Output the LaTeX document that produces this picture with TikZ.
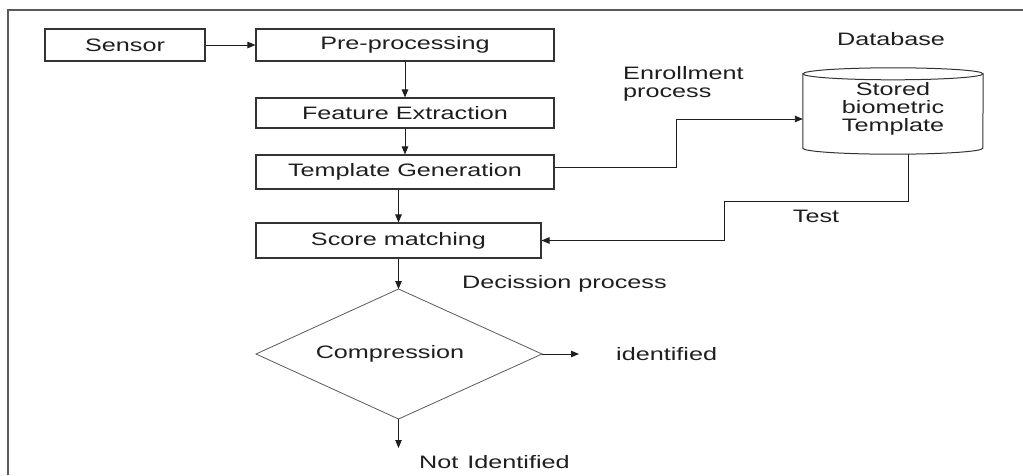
\documentclass[tikz,border=0pt]{standalone}
\usepackage{fontspec}
\setmainfont{Liberation Sans}[FakeStretch=1.4]
\usetikzlibrary{arrows.meta}
\definecolor{ink}{HTML}{1E1E1E}
\definecolor{edge}{HTML}{333333}
\definecolor{soft}{HTML}{5A5A5A}
\begin{document}
\begin{tikzpicture}[x=1pt,y=-1pt,
  every node/.style={font=\fontsize{18}{18}\selectfont, text=ink},
  box/.style={draw=edge, line width=1.1pt, inner sep=0pt},
  lbl/.style={inner sep=0pt},
  arr/.style={draw=ink, line width=0.9pt, -{Triangle[length=8pt,width=6.5pt]}},
  link/.style={draw=ink, line width=0.9pt}]
\useasboundingbox (0,0) rectangle (1023,475);

% outer frame (open at the right and the bottom)
\draw[draw=soft, line width=1.6pt] (8,475) -- (8,10) -- (1023,10);

% processing chain
\node[box, minimum width=160pt, minimum height=32pt] (sensor) at (125,45) {Sensor};
\node[box, minimum width=298pt, minimum height=32pt] (pre) at (405,45) {Pre-processing};
\node[box, minimum width=298pt, minimum height=30pt] (fe) at (405,113) {Feature Extraction};
\node[box, minimum width=298pt, minimum height=34pt] (tg) at (405,172) {Template Generation};
\node[box, minimum width=285pt, minimum height=35pt] (sm) at (398.5,240.5) {Score matching};

% decision diamond
\coordinate (dtop) at (398.5,289);
\coordinate (dright) at (542,354);
\coordinate (dbot) at (398.5,419);
\coordinate (dleft) at (256,354);
\draw[draw=soft, line width=0.8pt] (dtop) -- (dright) -- (dbot) -- (dleft) -- cycle;
\node[lbl] (comp) at (390,354) {Compression};

% database cylinder
\node[minimum width=180pt, minimum height=74pt, inner sep=0pt, align=center,
      font=\fontsize{18}{18}\selectfont] (db) at (893,111) {};
\draw[draw=edge, line width=1pt]
  (db.north) ellipse [x radius=90pt, y radius=6pt];
\draw[draw=edge, line width=1pt]
  (db.north west) -- (db.south west)
  arc[start angle=180, end angle=360, x radius=90pt, y radius=6pt]
  -- (db.north east);
\node[lbl, align=center] (dbtext) at (893,109) {Stored\\biometric\\Template};

% labels
\node[lbl] (dbase) at (891,39) {Database};
\node[lbl, anchor=west, align=left] (enr) at (623,83.5) {Enrollment\\process};
\node[lbl] (test) at (816,216) {Test};
\node[lbl, anchor=west] (decp) at (462,284) {Decission process};
\node[lbl, anchor=west] (idf) at (616,354) {identified};
\node[lbl, anchor=west] (nid) at (419,462) {Not\enspace Identified};

% connectors
\draw[arr] (sensor.east) -- (pre.west);
\draw[arr] (pre.south) -- (fe.north);
\draw[arr] (fe.south) -- (tg.north);
\draw[arr] (sm.north |- tg.south) -- (sm.north);
\draw[arr] (sm.south) -- (dtop);
\coordinate (idend) at (579,354);
\draw[arr] (dright) -- (idend);
\coordinate (nidend) at (398.5,448);
\draw[arr] (dbot) -- (nidend);

% enrollment path into the database
\coordinate (e1) at (676,119);
\draw[arr] ([yshift=5pt]tg.east) -| (e1) -- (e1 -| db.west);

% test path back to score matching
\coordinate (t0) at (908,153.5);
\coordinate (t1) at (724,201);
\draw[arr] (t0) |- (t1) |- (sm.east);
\end{tikzpicture}
\end{document}
